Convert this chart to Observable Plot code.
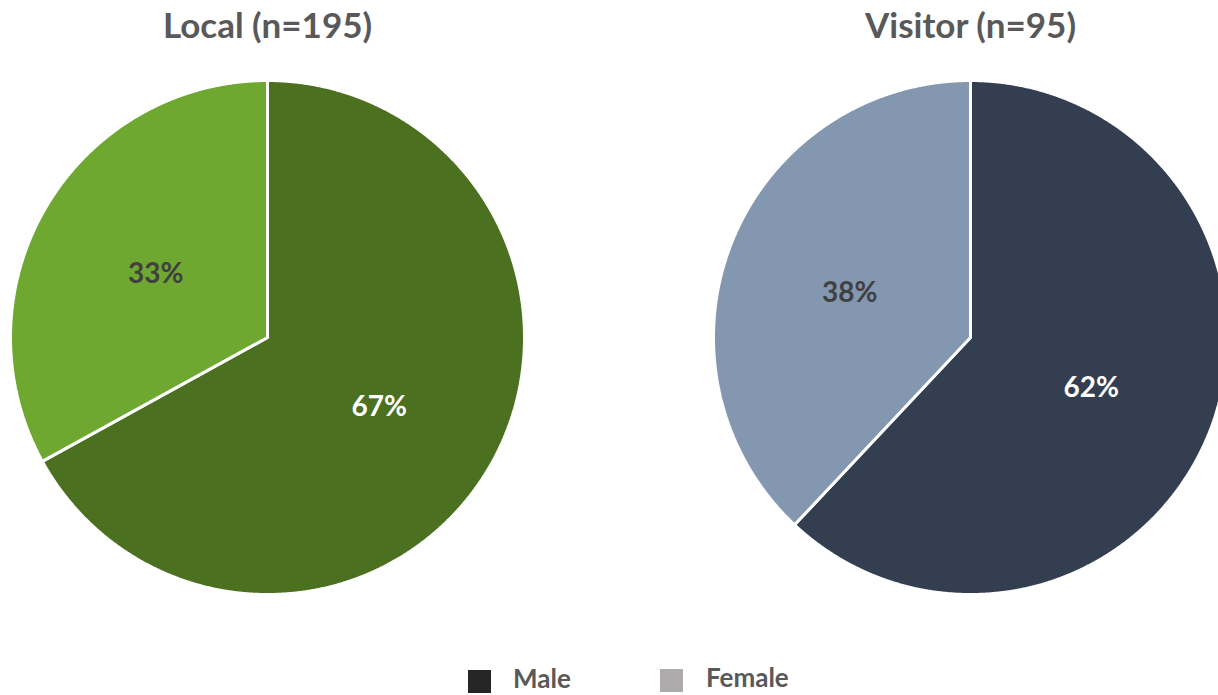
<!DOCTYPE html>
<html><head><meta charset="utf-8">
<script src="https://cdn.jsdelivr.net/npm/d3@7"></script>
<script src="https://cdn.jsdelivr.net/npm/@observablehq/plot@0.6"></script>
<style>
body{margin:0;background:#fff;overflow:hidden;font-family:Lato,sans-serif}
#chart{position:relative;width:1218px;height:695px;overflow:hidden}
#chart svg{overflow:hidden}
.sw{position:absolute;width:23px;height:23px}
.lt{position:absolute;font-weight:bold;font-size:26px;line-height:22px;color:#595959;white-space:nowrap}
</style></head><body><div id="chart"></div>
<script>
// ---- data ----
const groups = ["Local (n=195)", "Visitor (n=95)"];
const genders = ["Male", "Female"];
const malePct = [67, 62];
const femalePct = [33, 38];
const groupColors = [["#4B7020", "#6FA830"], ["#343E51", "#8497B0"]];
const labelColors = ["#FFFFFF", "#404040"];
const legendColors = ["#262626", "#AEAAAA"];

// ---- layout ----
const W = 1218, H = 655;
const centers = [{cx: 267, cy: 337}, {cx: 970, cy: 337}];
const R = 257;

const pts = [], labels = [], titles = [];
groups.forEach((g, i) => {
  const vals = [malePct[i], femalePct[i]];
  const tot = d3.sum(vals);
  let acc = 0;
  const {cx, cy} = centers[i];
  titles.push({x: cx, y: 26, text: g});
  vals.forEach((v, j) => {
    const a0 = acc / tot * 2 * Math.PI;
    acc += v;
    const a1 = acc / tot * 2 * Math.PI;
    const key = g + "|" + genders[j];
    const color = groupColors[i][j];
    pts.push({key, color, x: cx, y: cy});
    const n = Math.ceil((a1 - a0) / 0.004);
    for (let k = 0; k <= n; k++) {
      const a = a0 + (a1 - a0) * k / n;
      pts.push({key, color, x: cx + R * Math.sin(a), y: cy - R * Math.cos(a)});
    }
    const am = (a0 + a1) / 2, rl = R * 0.505;
    labels.push({x: cx + rl * Math.sin(am), y: cy - rl * Math.cos(am), text: v + "%", color: labelColors[j]});
  });
});

const plot = Plot.plot({
  width: W, height: H, margin: 0,
  x: {domain: [0, W], axis: null},
  y: {domain: [0, H], range: [0, H], axis: null},
  color: {type: "identity"},
  style: {fontFamily: "Lato, sans-serif", background: "#fff"},
  marks: [
    Plot.line(pts, {x: "x", y: "y", z: "key", fill: "color", stroke: "white", strokeWidth: 3, curve: "linear-closed", strokeLinejoin: "miter"}),
    Plot.text(labels, {x: "x", y: "y", dy: 3, text: "text", fill: "color", fontSize: 28, fontWeight: "bold"}),
    Plot.text(titles, {x: "x", y: "y", text: "text", fill: "#595959", fontSize: 35, fontWeight: "bold"})
  ]
});
const chart = document.getElementById("chart");
chart.appendChild(plot);

// legend
const leg = [
  {sx: 468, sy: 670, tx: 513, ty: 667},
  {sx: 660, sy: 669, tx: 706, ty: 666}
];
genders.forEach((g, j) => {
  const s = document.createElement("div");
  s.className = "sw";
  s.style.left = leg[j].sx + "px"; s.style.top = leg[j].sy + "px";
  s.style.background = legendColors[j];
  chart.appendChild(s);
  const t = document.createElement("div");
  t.className = "lt";
  t.style.left = leg[j].tx + "px"; t.style.top = leg[j].ty + "px";
  t.textContent = g;
  chart.appendChild(t);
});
</script></body></html>
